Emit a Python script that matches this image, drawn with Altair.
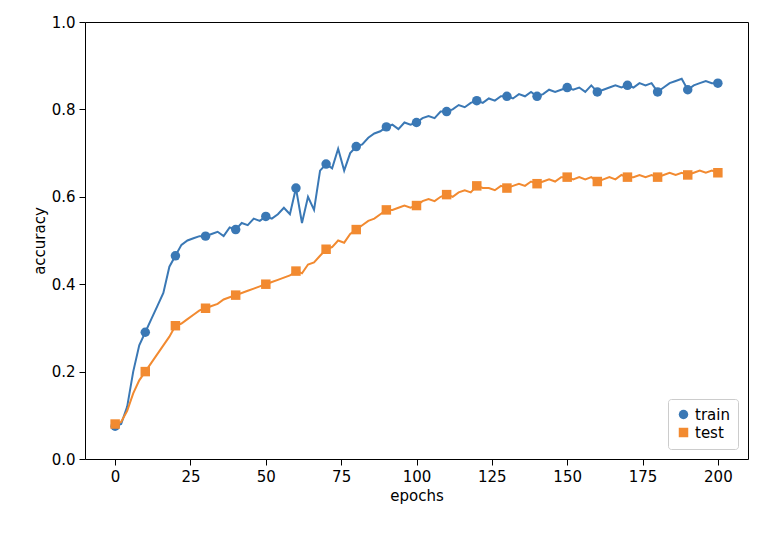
import altair as alt
import pandas as pd

epochs = list(range(0, 201, 2))
train = [0.075,0.08,0.12,0.2,0.26,0.29,0.32,0.35,0.38,0.44,0.465,0.49,0.50,0.505,0.51,0.51,0.515,0.52,0.51,0.53,
0.525,0.54,0.535,0.55,0.545,0.555,0.55,0.56,0.575,0.56,0.62,0.54,0.60,0.57,0.66,0.675,0.665,0.71,0.66,0.70,
0.715,0.72,0.735,0.745,0.75,0.76,0.765,0.755,0.77,0.765,0.77,0.78,0.785,0.78,0.795,0.795,0.80,0.81,0.805,0.815,
0.82,0.815,0.825,0.82,0.83,0.83,0.825,0.835,0.83,0.84,0.83,0.835,0.845,0.84,0.845,0.85,0.845,0.85,0.84,0.855,
0.84,0.845,0.85,0.855,0.85,0.855,0.85,0.86,0.855,0.86,0.84,0.85,0.86,0.865,0.87,0.845,0.855,0.86,0.865,0.86,0.86]
test = [0.08,0.085,0.11,0.15,0.18,0.2,0.22,0.24,0.26,0.28,0.305,0.31,0.32,0.33,0.34,0.345,0.35,0.355,0.365,0.37,
0.375,0.38,0.385,0.39,0.395,0.4,0.405,0.41,0.415,0.42,0.43,0.425,0.445,0.45,0.465,0.48,0.485,0.50,0.495,0.515,
0.525,0.535,0.545,0.55,0.56,0.57,0.57,0.575,0.58,0.575,0.58,0.59,0.595,0.59,0.60,0.605,0.60,0.61,0.615,0.61,
0.625,0.62,0.62,0.615,0.625,0.62,0.625,0.63,0.625,0.635,0.63,0.635,0.64,0.635,0.645,0.645,0.64,0.645,0.64,0.645,
0.635,0.64,0.645,0.64,0.65,0.645,0.645,0.65,0.645,0.65,0.645,0.65,0.655,0.65,0.655,0.65,0.655,0.66,0.655,0.66,0.655]

rows = [{"epochs": e, "accuracy": v, "series": "train"} for e, v in zip(epochs, train)]
rows += [{"epochs": e, "accuracy": v, "series": "test"} for e, v in zip(epochs, test)]
df = pd.DataFrame(rows)

colors = alt.Scale(domain=["train", "test"], range=["#3a78b5", "#f28a30"])
shapes = alt.Scale(domain=["train", "test"], range=["circle", "square"])
leg = alt.Legend(orient="bottom-right", labelFontSize=15, strokeColor="#ccc", fillColor="white",
                 padding=8, cornerRadius=3, symbolSize=90, offset=10, symbolStrokeWidth=0)

x = alt.X("epochs:Q", scale=alt.Scale(domain=[-10, 210], nice=False),
          axis=alt.Axis(values=list(range(0, 201, 25)), title="epochs", grid=False))
y = alt.Y("accuracy:Q", scale=alt.Scale(domain=[0, 1], nice=False),
          axis=alt.Axis(values=[0, 0.2, 0.4, 0.6, 0.8, 1.0], format=".1f", title="accuracy", grid=False))

lines = alt.Chart(df).mark_line(strokeWidth=2).encode(
    x=x, y=y, color=alt.Color("series:N", scale=colors, sort=["train", "test"], title=None, legend=leg))
pts = alt.Chart(df).transform_filter("datum.epochs % 10 == 0").mark_point(filled=True, opacity=1, size=90).encode(
    x=x, y=y,
    color=alt.Color("series:N", scale=colors, sort=["train", "test"], title=None, legend=leg),
    shape=alt.Shape("series:N", scale=shapes, sort=["train", "test"], title=None, legend=leg))

chart = (lines + pts).properties(
    width=663, height=437, autosize=alt.AutoSizeParams(type="none"),
    padding={"left": 77, "top": 14, "right": 18, "bottom": 69}
).configure_view(stroke="black", strokeWidth=1).configure_axis(
    labelFont="DejaVu Sans", titleFont="DejaVu Sans", labelFontSize=15, titleFontSize=15,
    titleFontWeight="normal", labelColor="black", titleColor="black", domain=False,
    tickColor="black", tickSize=6, labelPadding=4
).configure_legend(labelFont="DejaVu Sans")

chart.save("out.html", embed_options={"renderer": "svg", "actions": False})
